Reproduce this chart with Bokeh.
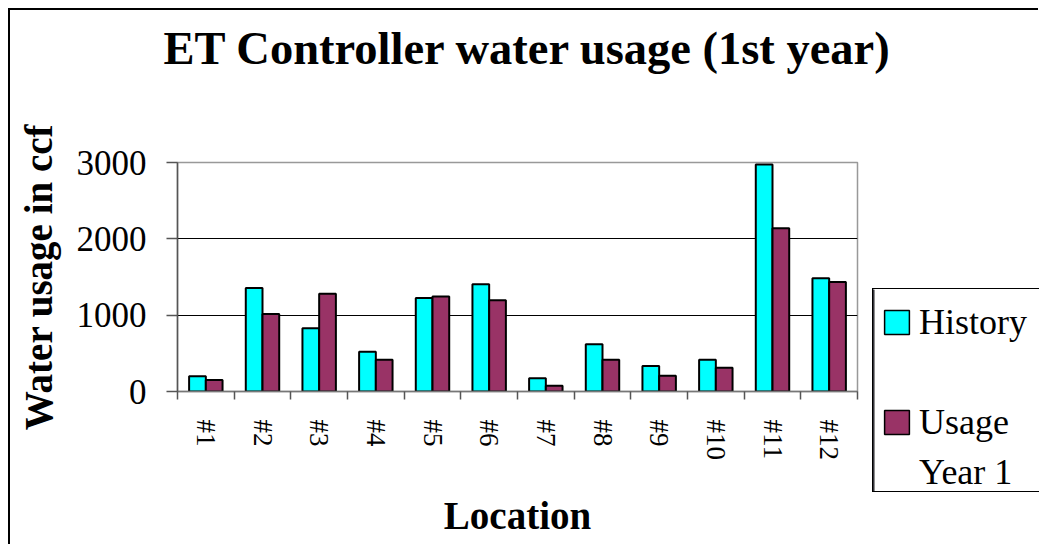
import numpy as np
from bokeh.plotting import figure
from bokeh.models import (ColumnDataSource, Range1d, FixedTicker, Legend, LegendItem, Title)
from bokeh.transform import dodge
from bokeh.embed import file_html
from bokeh.resources import INLINE

locations = ["#1", "#2", "#3", "#4", "#5", "#6", "#7", "#8", "#9", "#10", "#11", "#12"]
history = [200, 1355, 830, 520, 1225, 1405, 175, 620, 335, 415, 2975, 1485]
usage_year1 = [150, 1015, 1280, 415, 1245, 1195, 75, 415, 205, 310, 2140, 1435]
y_ticks = [0, 1000, 2000, 3000]
# legend rows (the second series' name wraps onto two lines, as in the original)
legend_rows = ["History", " ", "Usage", "Year 1"]
legend_colors = ["#00FFFF", None, "#993366", None]
series_colors = ["#00FFFF", "#993366"]

SERIF = "Liberation Serif"

xpos = [i + 0.5 for i in range(len(locations))]
src = ColumnDataSource(dict(x=xpos, history=history, usage=usage_year1))

p = figure(width=1030, height=536, output_backend="svg", toolbar_location=None,
           x_range=Range1d(0, len(locations)), y_range=Range1d(0, 3000),
           min_border_left=167, min_border_right=183, min_border_top=152, min_border_bottom=155)
p.styles = {"margin-left": "8px", "margin-top": "8px",
            "border-left": "2px solid #000", "border-top": "2px solid #000"}

bw = 0.295
r1 = p.vbar(x=dodge("x", -bw / 2, range=p.x_range), top="history", width=bw, source=src,
            fill_color=series_colors[0], line_color="black", line_width=2)
r2 = p.vbar(x=dodge("x", bw / 2, range=p.x_range), top="usage", width=bw, source=src,
            fill_color=series_colors[1], line_color="black", line_width=2)

# spacer (nearest the frame) then the real title above it
p.title = None
p.add_layout(Title(text=" ", text_font_size="1px", standoff=86), "above")
p.add_layout(Title(text="ET Controller water usage (1st year)", text_font=SERIF,
                   text_font_size="46.5px", text_font_style="bold", text_color="black",
                   align="left", offset=-14, standoff=0), "above")

# x axis
p.xaxis.ticker = FixedTicker(ticks=xpos, minor_ticks=list(range(len(locations) + 1)))
p.xaxis.major_label_overrides = {x: lab for x, lab in zip(xpos, locations)}
p.xaxis.major_label_orientation = -np.pi / 2
p.xaxis.major_label_text_font = SERIF
p.xaxis.major_label_text_font_size = "27px"
p.xaxis.major_label_text_color = "black"
p.xaxis.major_label_standoff = 20
p.xaxis.major_tick_out = 0
p.xaxis.major_tick_in = 0
p.xaxis.minor_tick_out = 8
p.xaxis.minor_tick_in = 0
p.xaxis.minor_tick_line_color = "#555555"
p.xaxis.minor_tick_line_width = 1.5
p.xaxis.axis_line_color = "#777777"
p.xaxis.axis_line_width = 1.5
p.xaxis.axis_label = "Location"
p.xaxis.axis_label_text_font = SERIF
p.xaxis.axis_label_text_font_size = "39px"
p.xaxis.axis_label_text_font_style = "bold"
p.xaxis.axis_label_text_color = "black"
p.xaxis.axis_label_standoff = 31

# y axis
p.yaxis.ticker = FixedTicker(ticks=y_ticks)
p.yaxis.major_label_text_font = SERIF
p.yaxis.major_label_text_font_size = "35px"
p.yaxis.major_label_text_color = "black"
p.yaxis.major_tick_out = 11
p.yaxis.major_tick_in = 0
p.yaxis.major_label_standoff = 20
p.yaxis.minor_tick_line_color = None
p.yaxis.major_tick_line_color = "#555555"
p.yaxis.major_tick_line_width = 1.5
p.yaxis.axis_line_color = "#555555"
p.yaxis.axis_line_width = 1.5
p.yaxis.axis_label = "Water usage in ccf"
p.yaxis.axis_label_text_font = SERIF
p.yaxis.axis_label_text_font_size = "39px"
p.yaxis.axis_label_text_font_style = "bold"
p.yaxis.axis_label_text_color = "black"
p.yaxis.axis_label_standoff = 14

p.xgrid.grid_line_color = None
p.ygrid.ticker = FixedTicker(ticks=[1000, 2000])
p.ygrid.grid_line_color = "black"
p.ygrid.grid_line_width = 1

p.outline_line_color = "#999999"
p.outline_line_width = 1.5
p.background_fill_color = "white"
p.border_fill_color = "white"

# legend box, overlaid at the right of the chart
lg = figure(width=167, height=204, output_backend="svg", toolbar_location=None,
            x_axis_type=None, y_axis_type=None, min_border=0,
            x_range=Range1d(0, 1), y_range=Range1d(0, 1))
lg.outline_line_color = None
lg.outline_line_alpha = 0
lg.xgrid.grid_line_color = None
lg.ygrid.grid_line_color = None
lg.styles = {"position": "absolute", "left": "872px", "top": "288px",
             "border-left": "1px solid #000", "border-top": "1px solid #000",
             "border-bottom": "1px solid #000", "border-right": "0px", "background": "white"}
items = []
for name, col in zip(legend_rows, legend_colors):
    if col is None:
        rr = lg.vbar(x=[-10], top=[1], width=1, fill_alpha=0, line_alpha=0)
    else:
        rr = lg.vbar(x=[-10], top=[1], width=1, fill_color=col, line_color="black", line_width=1.5)
    items.append(LegendItem(label=name, renderers=[rr]))
legend = Legend(items=items, location="top_left", orientation="vertical",
                label_text_font=SERIF, label_text_font_size="36px", label_text_color="black",
                glyph_width=31, glyph_height=30, label_standoff=7,
                label_height=50, padding=10, spacing=0, margin=8, label_width=160,
                border_line_color=None, border_line_alpha=0, background_fill_alpha=0.0)
lg.add_layout(legend)

open("out.html", "w").write(file_html([p, lg], INLINE))
